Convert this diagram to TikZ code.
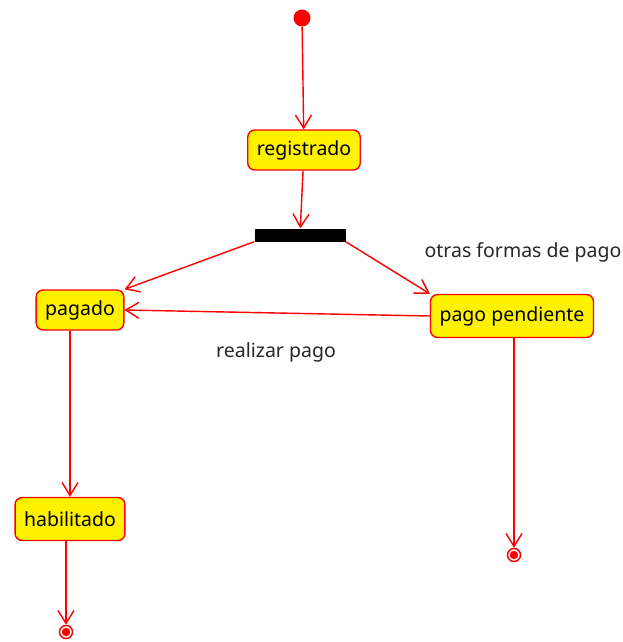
\documentclass[tikz,border=0pt]{standalone}
\usepackage{fontspec}
\setmainfont{Noto Sans}
\usetikzlibrary{arrows.meta}

\begin{document}
\begin{tikzpicture}[x=1pt,y=-1pt,
    estado/.style={draw=red,line width=1.4pt,fill=yellow,rounded corners=7pt,
      minimum height=40pt,inner xsep=9pt,font=\fontsize{19.5}{22}\selectfont},
    flecha/.style={draw=red,line width=1.4pt,-{Straight Barb[length=13pt,width=16pt,line width=1.4pt]}},
    final/.style={circle,draw=red,line width=1.5pt,minimum size=13pt,inner sep=0pt},
    etiqueta/.style={font=\fontsize{19.5}{22}\selectfont,text=black!85}]
	\useasboundingbox (0,0) rectangle (623,642);
	% estados
	\node [circle,fill=red,minimum size=17pt,inner sep=0pt] (inicio) at (302,18) {};
	\node [estado] (registrado) at (304,150) {registrado};
	\node [fill=black,minimum width=91pt,minimum height=13pt,inner sep=0pt] (barra) at (300,235) {};
	\node [estado] (pagado) at (80,310) {pagado};
	\node [estado,minimum height=43pt] (pendiente) at (512,316) {pago pendiente};
	\node [estado,minimum height=43pt] (habilitado) at (70,519) {habilitado};
	% finales
	\node [final] (fin1) at (514,555) {};
	\fill [red] (fin1) circle (4.2);
	\node [final] (fin2) at (66,632) {};
	\fill [red] (fin2) circle (4.2);
	% transiciones
	\draw [flecha] (inicio) -- (registrado);
	\draw [flecha] (registrado) -- (barra);
	\draw [flecha] (barra.south west) -- (pagado.north east);
	\draw [flecha] (barra.south east) -- (pendiente.north west);
	\draw [flecha] (pendiente.west) -- (pagado.east);
	\draw [flecha] (pagado.south -| habilitado.north) -- (habilitado.north);
	\draw [flecha] (habilitado.south -| fin2) -- (fin2);
	\draw [flecha] (pendiente.south -| fin1) -- (fin1);
	\node [etiqueta] (otras) at (523,252) {otras formas de pago};
	\node [etiqueta] (realizar) at (276,352) {realizar pago};
\end{tikzpicture}
\end{document}
